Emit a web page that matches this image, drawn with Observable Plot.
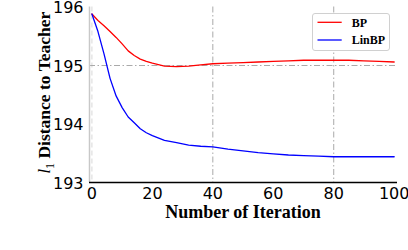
<!DOCTYPE html>
<html><head><meta charset="utf-8">
<script src="https://cdn.jsdelivr.net/npm/d3@7"></script>
<script src="https://cdn.jsdelivr.net/npm/@observablehq/plot@0.6"></script>
<style>
html,body{margin:0;padding:0;background:#fff;}
#chart{position:relative;width:408px;height:250px;overflow:hidden;}
#legend{position:absolute;left:312px;top:13px;width:78px;height:38px;box-sizing:border-box;border:1px solid #d0d0d0;border-radius:3px;background:#fff;}
#legend svg{position:absolute;left:-1px;top:-1px;}
</style></head><body><div id="chart"></div>
<script>
const iterations = [0,2,4,6,8,10,12,14,16,18,20,24,28,32,36,40,45,50,55,60,65,70,75,80,85,90,95,100];
const bpValues = [195.88,195.77,195.68,195.58,195.48,195.37,195.25,195.17,195.11,195.07,195.04,194.99,194.98,194.99,195.01,195.03,195.04,195.05,195.06,195.07,195.08,195.09,195.09,195.09,195.09,195.08,195.07,195.06];
const linbpValues = [195.88,195.58,195.2,194.78,194.48,194.28,194.12,194.02,193.92,193.85,193.80,193.72,193.68,193.64,193.62,193.61,193.57,193.54,193.51,193.49,193.47,193.46,193.45,193.44,193.44,193.44,193.44,193.44];
const seriesNames = ["BP","LinBP"];
const seriesColors = ["#ff0000","#0000ff"];
const xTicks = [0,20,40,60,80,100];
const yTicks = [193,194,195,196];
const xGrid = [40,80];
const yGrid = [195];
const xDomain = [-0.8,101.1];
const yDomain = [193,196];
const xLabel = "Number of Iteration";
const yLabelVar = "l";
const yLabelSub = "1";
const yLabelRest = " Distance to Teacher";

const rows = [];
iterations.forEach((it,i)=>{
  rows.push({it, v: bpValues[i], s: seriesNames[0]});
  rows.push({it, v: linbpValues[i], s: seriesNames[1]});
});

const dashDot = "6,2.5,1.5,2.5";
const plot = Plot.plot({
  width:408, height:250,
  marginLeft:89, marginRight:11, marginTop:6.5, marginBottom:68,
  x:{domain:xDomain}, y:{domain:yDomain},
  color:{domain:seriesNames, range:seriesColors},
  style:{fontFamily:"DejaVu Sans", fontSize:"16px", background:"white", color:"black"},
  marks:[
    Plot.ruleX([0], {stroke:"#d8d8d8", strokeDasharray:"5,3"}),
    Plot.ruleX(xGrid, {stroke:"#aaa", strokeDasharray:dashDot}),
    Plot.ruleY(yGrid, {stroke:"#aaa", strokeDasharray:dashDot}),
    Plot.ruleX([xDomain[0]], {stroke:"#c8c8c8", strokeWidth:1.5}),
    Plot.axisX({ticks:xTicks, tickSize:0, tickPadding:5, label:null, fontSize:16, tickFormat:d=>String(d)}),
    Plot.axisY({ticks:yTicks, tickSize:0, tickPadding:6, dy:1, label:null, fontSize:16, tickFormat:d=>String(d)}),
    Plot.line(rows, {x:"it", y:"v", z:"s", stroke:"s", strokeWidth:1.3}),
    Plot.ruleY([yDomain[0]], {stroke:"black", strokeWidth:1.5})
  ]
});

const svg = d3.select(plot);
const xs = plot.scale("x"), ys = plot.scale("y");
const xc = (xs.range[0]+xs.range[1])/2;
const yc = (ys.range[0]+ys.range[1])/2;
svg.append("text")
  .attr("x", xc).attr("y", 217.5)
  .attr("text-anchor","middle")
  .attr("font-family","'Liberation Serif', serif")
  .attr("font-weight","bold").attr("font-size","18px")
  .text(xLabel);
const yl = svg.append("text")
  .attr("transform", `translate(49.5,${yc - 1.5}) rotate(-90)`)
  .attr("text-anchor","middle")
  .attr("font-family","'Liberation Serif', serif")
  .attr("font-weight","bold").attr("font-size","17.5px");
yl.append("tspan").attr("font-style","italic").attr("font-weight","normal").text(yLabelVar);
yl.append("tspan").attr("font-weight","normal").attr("font-size","12px").attr("dy","4").text(yLabelSub);
yl.append("tspan").attr("dy","-4").text(yLabelRest);

const chart = document.getElementById("chart");
chart.appendChild(plot);

const legend = document.createElement("div");
legend.id = "legend";
chart.appendChild(legend);
const lsvg = d3.select(legend).append("svg").attr("width",80).attr("height",40);
const ly = [9.3, 27];
seriesNames.forEach((name,i)=>{
  lsvg.append("line").attr("x1",5.5).attr("x2",29.7).attr("y1",ly[i]).attr("y2",ly[i])
    .attr("stroke",seriesColors[i]).attr("stroke-width",1.3);
  lsvg.append("text").attr("x",39.7).attr("y",ly[i]+4.2)
    .attr("font-family","'Liberation Serif', serif").attr("font-weight","bold").attr("font-size","12px")
    .text(name);
});
</script></body></html>
